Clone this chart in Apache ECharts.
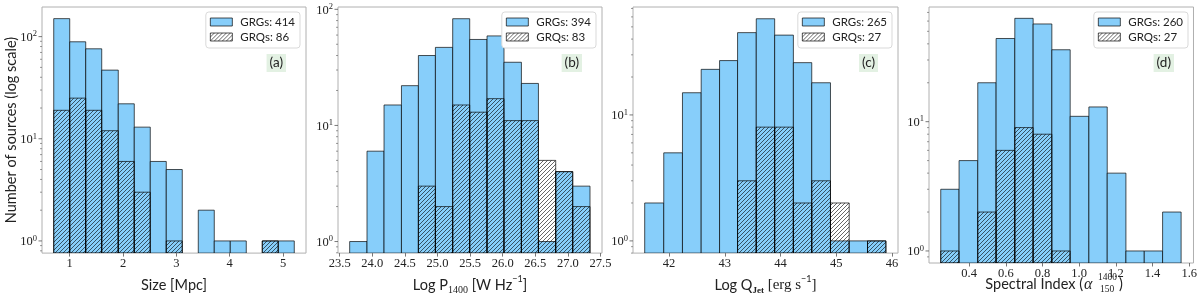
<!DOCTYPE html>
<html><head><meta charset="utf-8">
<script src="https://cdn.jsdelivr.net/npm/echarts@6/dist/echarts.min.js"></script>
<style>html,body{margin:0;padding:0;background:#fff}#c{width:1200px;height:300px}</style>
</head><body><div id="c"></div>
<script>
// ---------- data ----------
// (a) Size [Mpc]
const sizeEdges = [0.70,1.00,1.30,1.60,1.91,2.21,2.51,2.81,3.11,3.41,3.71,4.01,4.31,4.61,4.91,5.21];
const sizeGRG = [150,89,76,47,22,13,6,5,0,2,1,1,0,1,1];
const sizeGRQ = [19,25,19,12,6,3,0,1,0,0,0,0,0,1,0];
const sizeTicks = [1,2,3,4,5];
// (b) Log P1400
const powerEdges = [23.653,23.919,24.180,24.447,24.707,24.968,25.233,25.494,25.760,26.020,26.287,26.548,26.813,27.074,27.339];
const powerGRG = [1,6,15,22,40,47,83,55,59,35,23,1,4,3];
const powerGRQ = [0,0,0,0,3,2,15,13,17,11,11,5,4,2];
const powerTicks = [23.5,24.0,24.5,25.0,25.5,26.0,26.5,27.0,27.5];
// (c) Log QJet
const qjetEdges = [41.562,41.904,42.240,42.576,42.906,43.229,43.565,43.895,44.231,44.561,44.897,45.233,45.562,45.892];
const qjetGRG = [2,5,15,23,27,45,58,43,26,18,1,1,1];
const qjetGRQ = [0,0,0,0,0,3,8,8,2,3,2,0,1];
const qjetTicks = [42,43,44,45,46];
// (d) Spectral index
const alphaEdges = [0.245,0.345,0.447,0.547,0.649,0.749,0.851,0.951,1.053,1.153,1.255,1.355,1.455,1.556];
const alphaGRG = [3,5,20,44,63,57,36,11,13,4,1,1,2];
const alphaGRQ = [1,0,2,6,9,8,1,0,0,0,0,0,0];
const alphaTicks = [0.4,0.6,0.8,1.0,1.2,1.4,1.6];
// legend texts / panel tags
const legendGRG = ['GRGs: 414','GRGs: 394','GRGs: 265','GRGs: 260'];
const legendGRQ = ['GRQs: 86','GRQs: 83','GRQs: 27','GRQs: 27'];
const panelTags = ['(a)','(b)','(c)','(d)'];
// log-axis ticks
const yMajorTicks = [1,10,100];
const yDecades = [0.1,1,10,100];
const yMinorMultipliers = [2,3,4,5,6,7,8,9];

// ---------- styling ----------
const BLUE = '#87CEFA';
const EDGE = 'rgba(0,0,0,0.68)';
const SANS = 'Lato';
const SERIF = 'Liberation Serif';
function makeHatch(){
  const s = 4, c = document.createElement('canvas');
  c.width = s; c.height = s;
  const g = c.getContext('2d');
  g.strokeStyle = 'rgba(0,0,0,0.75)'; g.lineWidth = 0.8;
  g.beginPath();
  g.moveTo(0,s); g.lineTo(s,0);
  g.moveTo(-1,1); g.lineTo(1,-1);
  g.moveTo(s-1,s+1); g.lineTo(s+1,s-1);
  g.stroke();
  return c;
}
const HATCH = {image: makeHatch(), repeat: 'repeat'};

const panels = [
  {edges:sizeEdges, grg:sizeGRG, grq:sizeGRQ, ticks:sizeTicks, xmin:0.48, xmax:5.43, ymin:0.76, ymax:195, left:42, width:264, fmt:v=>String(v),
   name:'Size [Mpc]'},
  {edges:powerEdges, grg:powerGRG, grq:powerGRQ, ticks:powerTicks, xmin:23.474, xmax:27.523, ymin:0.795, ymax:104.7, left:338, width:264, fmt:v=>v.toFixed(1),
   name:'Log P{sub|1400} [W Hz{sup|\u22121}]'},
  {edges:qjetEdges, grg:qjetGRG, grq:qjetGRQ, ticks:qjetTicks, xmin:41.352, xmax:46.109, ymin:0.80, ymax:71.9, left:633, width:265, fmt:v=>String(v),
   name:'Log Q{subb|Jet} {ser|[erg s}{sup|\u22121}{ser|]}'},
  {edges:alphaEdges, grg:alphaGRG, grq:alphaGRQ, ticks:alphaTicks, xmin:0.181, xmax:1.6235, ymin:0.807, ymax:77.1, left:929, width:265, fmt:v=>v.toFixed(1),
   name:''}
];
const TOP = 7, HEIGHT = 256;

const nameRich = {
  sub:{fontSize:10, fontFamily:SERIF, verticalAlign:'bottom', lineHeight:10, color:'#222'},
  subb:{fontSize:9, fontFamily:SERIF, fontWeight:'bold', verticalAlign:'bottom', lineHeight:10, color:'#222'},
  sup:{fontSize:9, fontFamily:SANS, verticalAlign:'top', lineHeight:10, color:'#222'},
  ser:{fontSize:15, fontFamily:SERIF, verticalAlign:'middle', lineHeight:20, color:'#222'}
};

const grid = [], xAxis = [], yAxis = [], series = [], legend = [], title = [];
panels.forEach((p,i)=>{
  grid.push({left:p.left, width:p.width, top:TOP, height:HEIGHT, show:true, borderColor:'#b0b0b0', borderWidth:1, backgroundColor:'rgba(0,0,0,0)'});
  xAxis.push({
    type:'value', gridIndex:i, min:p.xmin, max:p.xmax,
    axisLine:{show:false}, splitLine:{show:false},
    axisTick:{show:true, length:3.5, lineStyle:{color:'#555', width:0.8}, customValues:p.ticks},
    axisLabel:{customValues:p.ticks, formatter:p.fmt, fontFamily:SERIF, fontSize:12.5, color:'#222', margin:4},
    name:p.name, nameLocation:'middle', nameGap:16,
    nameTextStyle:{fontFamily:SANS, fontSize:14.5, color:'#222', lineHeight:20, verticalAlign:'top', rich:nameRich}
  });
  yAxis.push({
    type:'log', logBase:10, gridIndex:i, min:p.ymin, max:p.ymax,
    axisLine:{show:false}, axisTick:{show:false}, axisLabel:{show:false}, splitLine:{show:false},
    name: i===0 ? 'Number of sources (log scale)' : '', nameLocation:'middle', nameGap:23,
    nameTextStyle:{fontFamily:SANS, fontSize:14.5, color:'#222'}
  });
  // histogram bars
  [[p.grg, false, legendGRG[i]], [p.grq, true, legendGRQ[i]]].forEach(([counts, isQ, nm])=>{
    const data = [];
    counts.forEach((v,k)=>{ if(v>0) data.push([p.edges[k], p.edges[k+1], v]); });
    series.push({
      type:'custom', name:nm, xAxisIndex:i, yAxisIndex:i, clip:true, silent:true, z: isQ?3:2,
      data, encode:{x:[0,1], y:2},
      itemStyle:{color: isQ?HATCH:BLUE, borderColor:EDGE, borderWidth:1},
      renderItem:(params, api)=>{
        const a = api.coord([api.value(0), api.value(2)]);
        const b = api.coord([api.value(1), p.ymin]);
        return {type:'rect', shape:{x:a[0], y:a[1], width:b[0]-a[0], height:b[1]-a[1]},
          style:{fill: isQ?HATCH:BLUE, stroke:EDGE, lineWidth:1}};
      }
    });
  });
  // log-scale ticks and labels on the y axis
  const tdata = [];
  yMajorTicks.forEach(v=>{ if(v>=p.ymin && v<=p.ymax) tdata.push([p.xmin, v, 1]); });
  yDecades.forEach(d=>yMinorMultipliers.forEach(m=>{ const v=d*m; if(v>=p.ymin && v<=p.ymax) tdata.push([p.xmin, v, 0]); }));
  series.push({
    type:'custom', xAxisIndex:i, yAxisIndex:i, clip:false, silent:true, z:5,
    data:tdata, encode:{x:0, y:1},
    renderItem:(params, api)=>{
      const v = api.value(1), major = api.value(2)===1;
      const pt = api.coord([api.value(0), v]);
      const len = major?3.5:2;
      const ch = [{type:'line', shape:{x1:pt[0]-len, y1:pt[1], x2:pt[0], y2:pt[1]}, style:{stroke:'#555', lineWidth: major?0.8:0.6}}];
      if(major){
        const e = Math.round(Math.log10(v));
        ch.push({type:'text', style:{text:'{b|10}{s|'+e+'}', x:pt[0]-5, y:pt[1]+1, align:'right', verticalAlign:'middle',
          rich:{b:{fontSize:12.5, fontFamily:SERIF, fill:'#222', lineHeight:16, verticalAlign:'middle'},
                s:{fontSize:8.5, fontFamily:SERIF, fill:'#222', lineHeight:8, verticalAlign:'top'}}}});
      }
      return {type:'group', children:ch};
    }
  });
  const gr = p.left + p.width;
  legend.push({
    orient:'vertical', right: 1200 - gr + 6, top: 12, itemWidth:22, itemHeight:8, itemGap:1,
    backgroundColor:'#fff', borderColor:'#d9d9d9', borderWidth:1, borderRadius:3, padding:[3,5,4,4],
    selectedMode:false, textStyle:{fontFamily:SANS, fontSize:11.5, color:'#222', lineHeight:14, padding:[0,0,0,3]},
    data:[{name:legendGRG[i], icon:'rect', itemStyle:{color:BLUE, borderColor:EDGE, borderWidth:1}},
          {name:legendGRQ[i], icon:'rect', itemStyle:{color:HATCH, borderColor:EDGE, borderWidth:1}}]
  });
  title.push({text:panelTags[i], right: 1200 - gr + 20, top: 54, backgroundColor:'#e3f1e3', padding:[2,3,2,3],
    textStyle:{fontFamily:SANS, fontSize:13.5, fontWeight:'normal', color:'#222'}});
});

// x-axis title of panel (d), with stacked super/subscript
const dTitle = [
  {type:'text', x:1083, y:284, style:{text:'Spectral Index (', align:'right', verticalAlign:'middle', font:'14.5px Lato', fill:'#222'}},
  {type:'text', x:1084, y:285, style:{text:'\u03b1', align:'left', verticalAlign:'middle', font:'italic 16px "Liberation Serif"', fill:'#222'}},
  {type:'text', x:1098, y:277, style:{text:'1400', align:'left', verticalAlign:'middle', font:'9.5px "Liberation Serif"', fill:'#222'}},
  {type:'text', x:1100, y:289.5, style:{text:'150', align:'left', verticalAlign:'middle', font:'9.5px "Liberation Serif"', fill:'#222'}},
  {type:'text', x:1119, y:284, style:{text:')', align:'left', verticalAlign:'middle', font:'14.5px Lato', fill:'#222'}}
];

const chart = echarts.init(document.getElementById('c'), null, {renderer:'canvas'});
chart.setOption({
  animation:false, grid, xAxis, yAxis, series, legend, title,
  graphic:[{type:'group', children:dTitle}]
});
</script></body></html>
